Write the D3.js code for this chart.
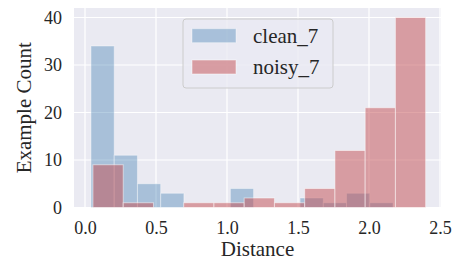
<!DOCTYPE html>
<html>
<head>
<meta charset="utf-8">
<script src="https://cdn.jsdelivr.net/npm/d3@7"></script>
<style>
  body { margin: 0; background: #fff; }
  text { font-family: "Liberation Serif", "Times New Roman", serif; fill: #262626; }
</style>
</head>
<body>
<div id="viz"></div>
<script>
// histogram data (equal-width bins over each range)
var cleanRange = [0.042, 2.169];
var cleanCounts = [34, 11, 5, 3, 0, 0, 4, 0, 0, 2, 1, 3, 1];
var noisyRange = [0.056, 2.399];
var noisyCounts = [9, 1, 0, 1, 1, 2, 1, 4, 12, 21, 40];
var seriesNames = ['clean_7', 'noisy_7'];
var xTicks = [0, 0.5, 1.0, 1.5, 2.0, 2.5];
var yTicks = [0, 10, 20, 30, 40];

var width = 452, height = 260;
var pLeft = 74, pRight = 441, pTop = 8, pBottom = 207.5;

function bins(range, counts) {
  var w = (range[1] - range[0]) / counts.length;
  return counts.map(function(c, i) {
    return { x0: range[0] + i * w, x1: range[0] + (i + 1) * w, n: c };
  });
}

var x = d3.scaleLinear().domain([-0.0775, 2.507]).range([pLeft, pRight]);
var y = d3.scaleLinear().domain([0, 42]).range([pBottom, pTop]);

var svg = d3.select('#viz').append('svg')
  .attr('width', width)
  .attr('height', height);

svg.append('rect')
  .attr('x', pLeft).attr('y', pTop)
  .attr('width', pRight - pLeft).attr('height', pBottom - pTop)
  .style('fill', '#EAEAF2');

// grid
svg.append('g').selectAll('line').data(xTicks).enter().append('line')
  .attr('x1', function(d) { return x(d); })
  .attr('x2', function(d) { return x(d); })
  .attr('y1', pTop).attr('y2', pBottom)
  .style('stroke', '#fff').style('stroke-width', 1.2);
svg.append('g').selectAll('line').data(yTicks).enter().append('line')
  .attr('y1', function(d) { return y(d); })
  .attr('y2', function(d) { return y(d); })
  .attr('x1', pLeft).attr('x2', pRight)
  .style('stroke', '#fff').style('stroke-width', 1.2);

var series = [
  { name: seriesNames[0], data: bins(cleanRange, cleanCounts), color: 'steelblue', op: 0.4 },
  { name: seriesNames[1], data: bins(noisyRange, noisyCounts), color: '#C44E52', op: 0.5 }
];

series.forEach(function(s) {
  svg.append('g').selectAll('rect').data(s.data.filter(function(d) { return d.n > 0; }))
    .enter().append('rect')
      .attr('x', function(d) { return x(d.x0); })
      .attr('width', function(d) { return x(d.x1) - x(d.x0); })
      .attr('y', function(d) { return y(d.n); })
      .attr('height', function(d) { return y(0) - y(d.n); })
      .style('fill', s.color)
      .style('fill-opacity', s.op)
      .style('stroke', '#fff')
      .style('stroke-opacity', s.op)
      .style('stroke-width', 1);
});

// axes (no tick marks, seaborn darkgrid style)
var xAxis = svg.append('g')
  .attr('transform', 'translate(0,' + pBottom + ')')
  .call(d3.axisBottom(x).tickValues(xTicks).tickFormat(d3.format('.1f')).tickSize(0).tickPadding(14));
var yAxis = svg.append('g')
  .attr('transform', 'translate(' + pLeft + ',0)')
  .call(d3.axisLeft(y).tickValues(yTicks).tickSize(0).tickPadding(12));
[xAxis, yAxis].forEach(function(a) {
  a.select('.domain').remove();
  a.selectAll('text')
    .style('font-family', '"Liberation Serif", serif')
    .style('font-size', '18px')
    .style('fill', '#262626');
});

svg.append('text')
  .attr('x', (pLeft + pRight) / 2)
  .attr('y', 256)
  .attr('text-anchor', 'middle')
  .style('font-size', '21px')
  .text('Distance');

svg.append('text')
  .attr('transform', 'translate(31,' + ((pTop + pBottom) / 2) + ') rotate(-90)')
  .attr('text-anchor', 'middle')
  .style('font-size', '21px')
  .text('Example Count');

// legend
var lg = svg.append('g');
lg.append('rect')
  .attr('x', 183).attr('y', 19)
  .attr('width', 150).attr('height', 69)
  .attr('rx', 3)
  .style('fill', '#EAEAF2').style('fill-opacity', 0.8)
  .style('stroke', '#ccc');
series.forEach(function(s, i) {
  var cy = 35.7 + i * 31.3;
  lg.append('rect')
    .attr('x', 192).attr('y', cy - 7)
    .attr('width', 44).attr('height', 14)
    .style('fill', s.color).style('fill-opacity', s.op)
    .style('stroke', '#fff').style('stroke-opacity', s.op);
  lg.append('text')
    .attr('x', 253).attr('y', cy + 7)
    .style('font-size', '21px')
    .text(s.name);
});
</script>
</body>
</html>
